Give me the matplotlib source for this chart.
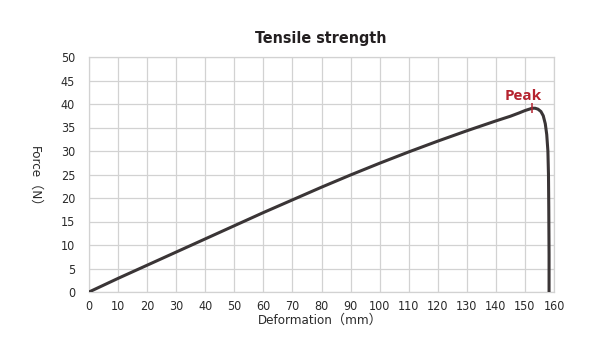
import matplotlib
matplotlib.use("Agg")
import matplotlib.pyplot as plt
import numpy as np

# tensile test curve
deformation = [0, 10, 20, 30, 40, 50, 60, 70, 80, 90, 100, 110, 120, 130, 140,
               145, 148, 150, 151.5, 152.5, 153.5, 154.5, 155.5, 156.3, 157.0,
               157.5, 157.9, 158.1, 158.2, 158.3, 158.3]
force = [0, 2.9, 5.7, 8.5, 11.3, 14.1, 16.9, 19.6, 22.3, 24.9, 27.4, 29.8, 32.1, 34.3, 36.4,
         37.4, 38.1, 38.6, 38.9, 39.1, 39.1, 38.9, 38.4, 37.5, 35.8,
         33.5, 30.0, 25.0, 18.0, 8.0, 0]

x_ticks = list(range(0, 161, 10))
y_ticks = list(range(0, 51, 5))

title = "Tensile strength"
x_label = "Deformation（mm）"
y_label = "Force（N）"
peak_label = "Peak"

narrow = ["DejaVu Sans", "Noto Sans CJK SC"]

fig = plt.figure(figsize=(5.94, 3.47), dpi=100)
ax = fig.add_axes([89 / 594, 1 - 292 / 347, 465 / 594, 235 / 347])

ax.plot(deformation, force, color="#3a3536", lw=2.2, solid_capstyle="butt",
        solid_joinstyle="round", zorder=3)

# peak marker
i_peak = int(np.argmax(force))
px, py = deformation[i_peak], force[i_peak]
ax.plot([px], [py], marker="|", color="#b5232f", markersize=6.5, mew=1.1, zorder=4)
ax.annotate(peak_label, (px, py), xytext=(-6.5, 8.6), textcoords="offset points",
            ha="center", va="center", color="#b5232f", fontsize=11,
            fontweight="bold", family="Open Sans")

ax.set_xlim(0, 160)
ax.set_ylim(0, 50)
ax.set_xticks(x_ticks)
ax.set_yticks(y_ticks)
ax.grid(True, color="#d2d2d2", lw=0.9)
ax.set_axisbelow(True)
for s in ax.spines.values():
    s.set_color("#d2d2d2")
    s.set_linewidth(0.9)
ax.tick_params(length=0, labelsize=9, labelcolor="#2a2a2a")
ax.tick_params(axis="x", pad=6)
ax.tick_params(axis="y", pad=10)
for lab in ax.get_xticklabels() + ax.get_yticklabels():
    lab.set_family(narrow)
    lab.set_stretch("condensed")

fig.text(321 / 594, 1 - 38 / 347, title, ha="center", va="center",
         fontsize=11.5, fontweight="bold", family=narrow, stretch="condensed",
         color="#231f20")
fig.text(320 / 594, 1 - 320 / 347, x_label, ha="center", va="center",
         fontsize=9.5, family=narrow, stretch="condensed", color="#2a2a2a")
fig.text(35 / 594, 1 - 180 / 347, y_label, ha="center", va="center",
         rotation=270, fontsize=9.5, family=narrow, stretch="condensed",
         color="#2a2a2a")

fig.savefig("out.png", dpi=100)
